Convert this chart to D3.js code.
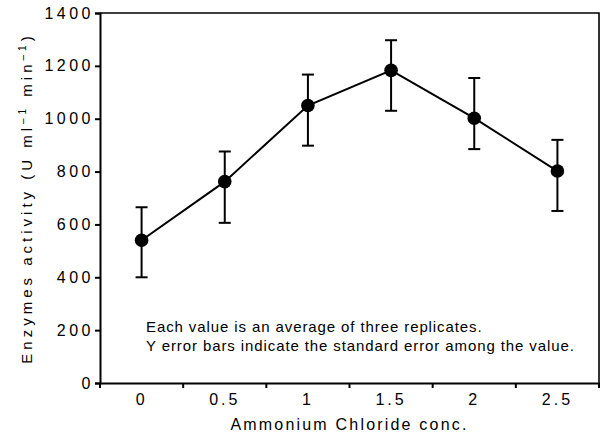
<!DOCTYPE html>
<html>
<head>
<meta charset="utf-8">
<script src="https://cdn.jsdelivr.net/npm/d3@7"></script>
<style>
  body { margin: 0; background: #fff; }
  text { font-family: "Liberation Sans", Arial, sans-serif; fill: #000; }
</style>
</head>
<body>
<svg id="chart" width="602" height="435"></svg>
<script>
// concentration categories (x) and enzyme activity readings
const concLabels = ['0', '0.5', '1', '1.5', '2', '2.5'];
const activity = [540, 762, 1050, 1183, 1002, 802];
const errUpper = [665, 876, 1167, 1297, 1154, 920];
const errLower = [400, 606, 898, 1030, 885, 651];
const yTicks = [0, 200, 400, 600, 800, 1000, 1200, 1400];
const notes = [
  'Each value is an average of three replicates.',
  'Y error bars indicate the standard error among the value.'
];

const svg = d3.select('#chart'),
  margin = { top: 13, right: 3, bottom: 52, left: 100 },
  width = +svg.attr('width'),
  height = +svg.attr('height');

const points = concLabels.map((c, i) => ({
  c: c, v: activity[i], hi: errUpper[i], lo: errLower[i]
}));

const x = d3
  .scaleBand()
  .domain(concLabels)
  .range([margin.left, width - margin.right])
  .padding(0);

const y = d3
  .scaleLinear()
  .domain([0, 1400])
  .range([height - margin.bottom, margin.top]);

// frame (top + right)
svg.append('path')
  .attr('d', `M${margin.left},${margin.top}H${x.range()[1]}V${y(0)}`)
  .attr('fill', 'none')
  .attr('stroke', '#000')
  .attr('stroke-width', 1.6);

// y axis
const yAxis = g =>
  g
    .attr('transform', `translate(${margin.left},0)`)
    .call(d3.axisLeft(y).tickValues(yTicks).tickFormat(d3.format('d'))
      .tickSize(5).tickPadding(1))
    .call(g => g.select('.domain').attr('stroke-width', 2))
    .call(g => g.selectAll('.tick line').attr('stroke-width', 2))
    .call(g => g.selectAll('.tick text')
      .attr('font-size', 16)
      .attr('letter-spacing', 3.5)
      .attr('font-family', '"Liberation Sans", Arial, sans-serif'));

svg.append('g').call(yAxis);

// x axis: labels centred in bands, ticks on the band edges
const xAxis = g =>
  g
    .attr('transform', `translate(0,${y(0)})`)
    .call(d3.axisBottom(x).tickSize(0).tickPadding(11).tickSizeOuter(0))
    .call(g => g.select('.domain').attr('stroke-width', 2))
    .call(g => g.selectAll('.tick text')
      .attr('font-size', 16)
      .attr('letter-spacing', 3)
      .attr('font-family', '"Liberation Sans", Arial, sans-serif'));

svg.append('g').call(xAxis);

const edges = concLabels.map(c => x(c)).concat(x.range()[1]);
svg.append('g')
  .selectAll('line')
  .data(edges)
  .enter()
  .append('line')
  .attr('x1', d => d)
  .attr('x2', d => d)
  .attr('y1', y(0))
  .attr('y2', y(0) + 5)
  .attr('stroke', '#000')
  .attr('stroke-width', 2);

const cx = d => x(d.c) + x.bandwidth() / 2;

// connecting line
svg.append('path')
  .datum(points)
  .attr('fill', 'none')
  .attr('stroke', '#000')
  .attr('stroke-width', 2)
  .attr('d', d3.line().x(cx).y(d => y(d.v)));

// error bars
const bars = svg.append('g')
  .attr('stroke', '#000')
  .attr('stroke-width', 2)
  .selectAll('g')
  .data(points)
  .enter()
  .append('g');

bars.append('line')
  .attr('x1', cx).attr('x2', cx)
  .attr('y1', d => y(d.hi)).attr('y2', d => y(d.lo));
bars.append('line')
  .attr('x1', d => cx(d) - 6).attr('x2', d => cx(d) + 6)
  .attr('y1', d => y(d.hi)).attr('y2', d => y(d.hi));
bars.append('line')
  .attr('x1', d => cx(d) - 6).attr('x2', d => cx(d) + 6)
  .attr('y1', d => y(d.lo)).attr('y2', d => y(d.lo));

// markers
svg.append('g')
  .selectAll('circle')
  .data(points)
  .enter()
  .append('circle')
  .attr('cx', cx)
  .attr('cy', d => y(d.v))
  .attr('r', 6.8)
  .attr('fill', '#000');

// notes
svg.append('g')
  .selectAll('text')
  .data(notes)
  .enter()
  .append('text')
  .attr('x', 146)
  .attr('y', (d, i) => 332 + i * 19)
  .attr('font-size', 15)
  .attr('letter-spacing', 0.9)
  .text(d => d);

// x title
svg.append('text')
  .attr('x', (margin.left + x.range()[1]) / 2)
  .attr('y', 430)
  .attr('text-anchor', 'middle')
  .attr('font-size', 16)
  .attr('letter-spacing', 2.2)
  .text('Ammonium Chloride conc.');

// y title with superscripts
const yt = svg.append('text')
  .attr('transform', `translate(32,${(y(0) + y(1400)) / 2}) rotate(-90)`)
  .attr('text-anchor', 'middle')
  .attr('font-size', 15)
  .attr('letter-spacing', 4);
yt.append('tspan').text('Enzymes activity (U ml');
yt.append('tspan').attr('dy', -6).attr('font-size', 10).text('\u20131');
yt.append('tspan').attr('dy', 6).text(' min');
yt.append('tspan').attr('dy', -6).attr('font-size', 10).text('\u20131');
yt.append('tspan').attr('dy', 6).text(')');
</script>
</body>
</html>
